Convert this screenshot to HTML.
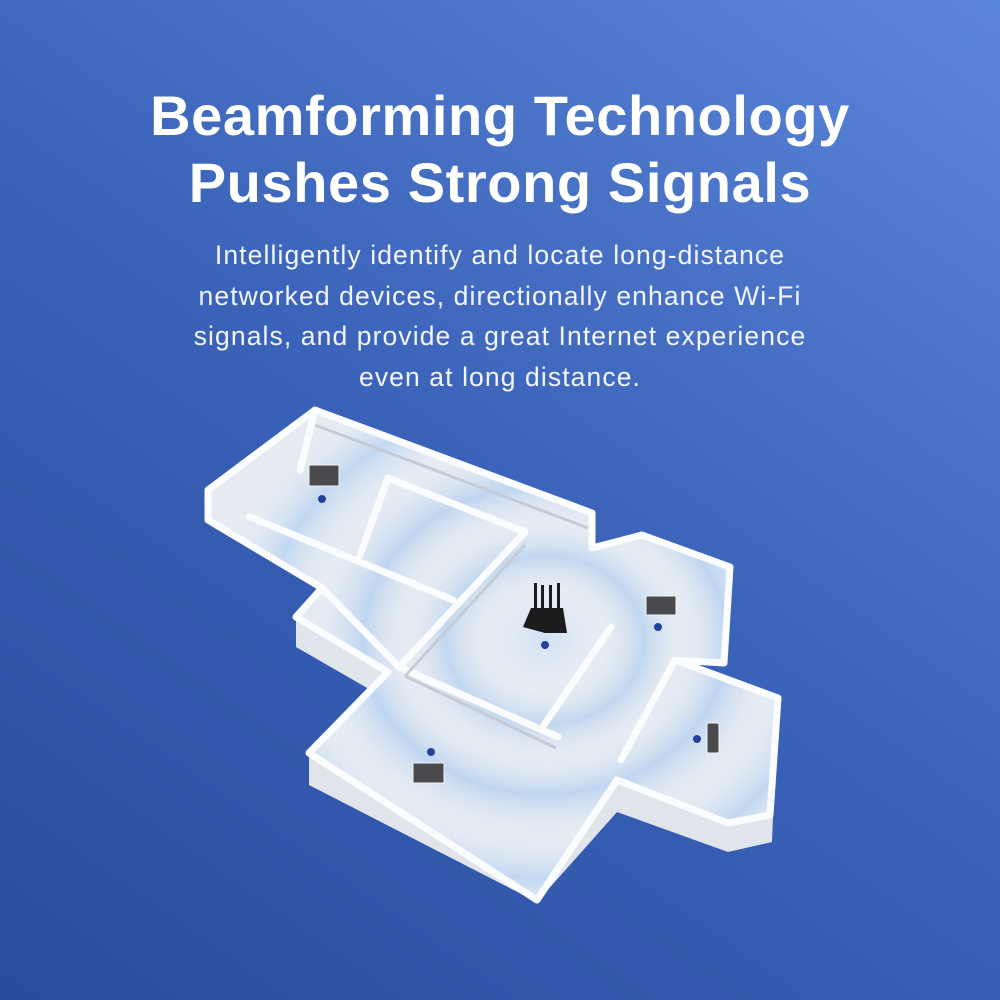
<!DOCTYPE html>
<html><head><meta charset="utf-8"><style>
html,body{margin:0;padding:0}
body{width:1000px;height:1000px;overflow:hidden;position:relative;font-family:"Liberation Sans",sans-serif;
background:linear-gradient(35deg,#2a4c9f 0%,#3a62b8 50%,#5b86d9 100%);}
h1{position:absolute;top:82px;left:0;width:1000px;margin:0;text-align:center;color:#fff;font-size:56px;line-height:67px;font-weight:bold;letter-spacing:0.6px}
p{position:absolute;top:235px;left:0;width:1000px;margin:0;text-align:center;color:#f2f5fb;font-size:26.5px;line-height:40.7px;letter-spacing:1.1px}
svg{position:absolute;left:0;top:0}
</style></head><body>
<h1>Beamforming Technology<br>Pushes Strong Signals</h1>
<p>Intelligently identify and locate long-distance<br>networked devices, directionally enhance Wi-Fi<br>signals, and provide a great Internet experience<br>even at long distance.</p>
<svg width="1000" height="1000" viewBox="0 0 1000 1000">
<defs>
<clipPath id="fl"><polygon points="208,490 315,410 592,513 592,548 642,535 730,567 724,663 675,660 778,698 770,815 728,823 617,780 537,900 309,753 388,672 296,617 322,588 208,520"/></clipPath>
<radialGradient id="rg" cx="545" cy="640" r="330" gradientUnits="userSpaceOnUse" gradientTransform="translate(545 640) scale(1 0.85) translate(-545 -640)">
<stop offset="0" stop-color="#cfe0f5" stop-opacity="0.9"/>
<stop offset="0.18" stop-color="#e8eef6" stop-opacity="0.3"/>
<stop offset="0.3" stop-color="#b8d2ef" stop-opacity="0.8"/>
<stop offset="0.42" stop-color="#e8eef6" stop-opacity="0.2"/>
<stop offset="0.55" stop-color="#b5d0ef" stop-opacity="0.8"/>
<stop offset="0.7" stop-color="#e8eef6" stop-opacity="0.2"/>
<stop offset="0.85" stop-color="#b8d3f0" stop-opacity="0.8"/>
<stop offset="1" stop-color="#e8eef6" stop-opacity="0.1"/>
</radialGradient>
</defs>
<polygon points="208,490 208,522 322,590 296,617 296,647 388,700 309,753 309,785 537,902 617,812 728,852 772,842 778,698 675,660" fill="#e0e5ec"/>
<polygon points="208,490 315,410 592,513 592,548 642,535 730,567 724,663 675,660 778,698 770,815 728,823 617,780 537,900 309,753 388,672 296,617 322,588 208,520" fill="#e6ebf2"/>
<g clip-path="url(#fl)"><ellipse cx="545" cy="640" rx="330" ry="280" fill="url(#rg)"/></g>
<g fill="none" stroke="#fbfcfe" stroke-width="7" stroke-linejoin="round" stroke-linecap="round">
<polygon points="208,490 315,410 592,513 592,548 642,535 730,567 724,663 675,660 778,698 770,815 728,823 617,780 537,900 309,753 388,672 296,617 322,588 208,520"/>
<polyline points="388,478 525,532 399,667 558,737"/>
<line x1="611" y1="627" x2="544" y2="725"/>
<line x1="250" y1="517" x2="453" y2="600"/>
<line x1="322" y1="588" x2="399" y2="667"/>
<line x1="675" y1="660" x2="621" y2="760"/>
<line x1="388" y1="478" x2="360" y2="555"/>
<line x1="315" y1="410" x2="300" y2="470"/>
</g>
<g fill="none" stroke="#c5ccd8" stroke-width="3">
<line x1="525" y1="545" x2="405" y2="676"/>
<line x1="405" y1="676" x2="556" y2="748"/>
<line x1="315" y1="425" x2="588" y2="528"/>
</g>
<g fill="#1c1c1e">
<polygon points="523,627 531,608 563,608 567,633 545,633"/>
<rect x="534" y="583" width="3" height="26"/><rect x="541" y="585" width="3" height="24"/><rect x="549" y="585" width="3" height="24"/><rect x="557" y="583" width="3" height="26"/>
</g>
<g fill="#4a4a4e" stroke="#f4f4f4" stroke-width="1">
<rect x="309" y="465" width="30" height="21"/>
<rect x="646" y="596" width="30" height="19"/>
<rect x="413" y="763" width="31" height="20"/>
<rect x="707" y="723" width="12" height="30" rx="2"/>
</g>
<g fill="#21439c">
<circle cx="322" cy="499" r="4"/><circle cx="658" cy="627" r="4"/><circle cx="431" cy="752" r="4"/><circle cx="697" cy="739" r="4"/><circle cx="545" cy="645" r="4"/>
</g>
</svg>
</body></html>
